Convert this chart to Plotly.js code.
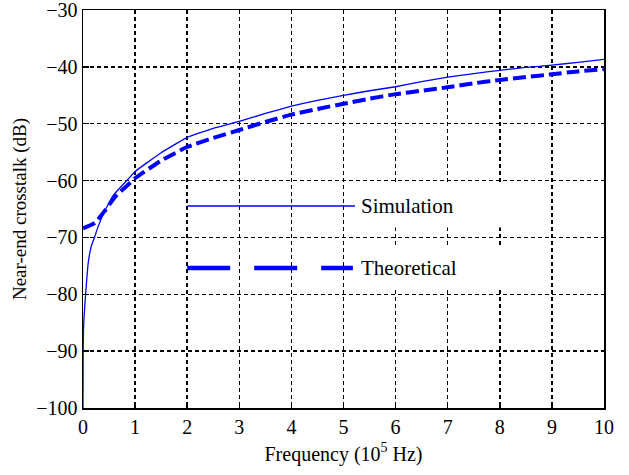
<!DOCTYPE html>
<html>
<head>
<meta charset="utf-8">
<script src="https://cdn.plot.ly/plotly-3.0.1.min.js"></script>
<style>html,body{margin:0;padding:0;background:#fff;}#chart{width:629px;height:475px;}</style>
</head>
<body>
<div id="chart"></div>
<script>
// Frequency in units of 10^5 Hz
const simFreq = [0, 0.003, 0.01, 0.02, 0.05, 0.1, 0.16, 0.22, 0.29, 0.42, 0.58, 0.84, 1, 1.5, 2, 2.5, 3, 3.5, 4, 4.5, 5, 5.5, 6, 6.5, 7, 7.5, 8, 8.5, 9, 9.5, 10];
const simDB   = [-100, -90, -86, -84, -80, -74.5, -71.5, -70, -68.1, -65.3, -62.6, -60, -58.4, -55.1, -52.4, -50.8, -49.6, -48.2, -46.9, -45.9, -45, -44.2, -43.5, -42.6, -41.8, -41.2, -40.6, -40.1, -39.7, -39.2, -38.7];
const theoFreq = [0, 0.23, 0.42, 0.61, 0.81, 1, 1.5, 2, 2.5, 3, 3.5, 4, 4.5, 5, 5.5, 6, 6.5, 7, 7.5, 8, 8.5, 9, 9.5, 10];
const theoDB   = [-68.4, -67.4, -65.3, -62.9, -61.2, -59.6, -56.5, -54.1, -52.5, -51.1, -49.7, -48.4, -47.4, -46.5, -45.6, -44.8, -44.2, -43.6, -42.9, -42.3, -41.8, -41.3, -40.8, -40.4];
const seriesNames = ['Simulation', 'Theoretical'];
const xTicks = [0, 1, 2, 3, 4, 5, 6, 7, 8, 9, 10];
const yTicks = [-100, -90, -80, -70, -60, -50, -40, -30];

const FONT = 'Liberation Serif, Times New Roman, serif';
const BLUE = '#0000ff';

const traces = [
  {x: simFreq, y: simDB, name: seriesNames[0], type: 'scatter', mode: 'lines',
   line: {color: BLUE, width: 1.3, shape: 'spline', smoothing: 0.25}},
  {x: theoFreq, y: theoDB, name: seriesNames[1], type: 'scatter', mode: 'lines',
   line: {color: BLUE, width: 4, dash: '13px,5px', shape: 'spline', smoothing: 0.5}}
];

const axisCommon = {
  showline: true, linecolor: '#000', linewidth: 1.5, mirror: true,
  ticks: 'inside', ticklen: 6, tickwidth: 1.5, tickcolor: '#000',
  showgrid: true, gridcolor: '#000', gridwidth: 1.5, griddash: '4px,3px',
  zeroline: false, ticklabeloverflow: 'allow',
  tickfont: {family: FONT, size: 20, color: '#000'}
};

const layout = {
  width: 629, height: 475,
  margin: {l: 83, r: 25, t: 10, b: 67},
  paper_bgcolor: '#fff', plot_bgcolor: '#fff',
  showlegend: false,
  font: {family: FONT, color: '#000'},
  xaxis: Object.assign({}, axisCommon, {
    range: [0, 10], tickvals: xTicks, ticktext: xTicks.map(String),
    title: {text: 'Frequency (10<sup>5</sup> Hz)', font: {family: FONT, size: 20}, standoff: 10}
  }),
  yaxis: Object.assign({}, axisCommon, {
    range: [-100, -30], tickvals: yTicks,
    title: {text: 'Near-end crosstalk (dB)', font: {family: FONT, size: 19}, standoff: 4}
  }),
  shapes: [
    {type: 'line', xref: 'paper', yref: 'paper', x0: 0.2, x1: 0.522, y0: 0.5075, y1: 0.5075,
     line: {color: BLUE, width: 1.3}},
    {type: 'line', xref: 'paper', yref: 'paper', x0: 0.2, x1: 0.518, y0: 0.352, y1: 0.352,
     line: {color: BLUE, width: 4.5, dash: '43px,24px'}}
  ],
  annotations: [
    {xref: 'paper', yref: 'paper', x: 0.532, y: 0.5075, xanchor: 'left', yanchor: 'middle',
     text: seriesNames[0], showarrow: false, align: 'left', width: 145, height: 42,
     bgcolor: '#fff', borderpad: 0, font: {family: FONT, size: 21, color: '#000'}},
    {xref: 'paper', yref: 'paper', x: 0.532, y: 0.352, xanchor: 'left', yanchor: 'middle',
     text: seriesNames[1], showarrow: false, align: 'left', width: 145, height: 42,
     bgcolor: '#fff', borderpad: 0, font: {family: FONT, size: 21, color: '#000'}}
  ]
};

Plotly.newPlot('chart', traces, layout, {displayModeBar: false, staticPlot: true});
</script>
</body>
</html>
